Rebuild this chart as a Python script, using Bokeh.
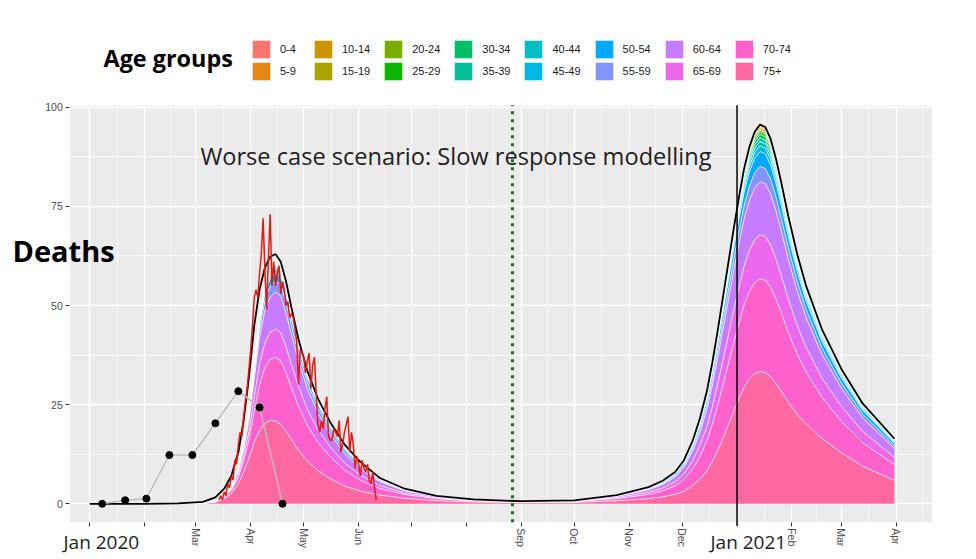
import pandas as pd
from bokeh.plotting import figure
from bokeh.models import (ColumnDataSource, Range1d, FixedTicker, Label, Legend,
                          LegendItem, BoxAnnotation)
from bokeh.embed import file_html
from bokeh.resources import INLINE

# ---------------- data ----------------
age_groups = ["0-4", "5-9", "10-14", "15-19", "20-24", "25-29", "30-34", "35-39",
              "40-44", "45-49", "50-54", "55-59", "60-64", "65-69", "70-74", "75+"]
age_colors = ["#F8766D", "#E68613", "#CD9600", "#ABA300", "#7CAE00", "#0CB702",
              "#00BE67", "#00C19A", "#00BFC4", "#00B8E7", "#00A9FF", "#8494FF",
              "#C77CFF", "#ED68ED", "#FF61CC", "#FF68A1"]

stack_dates = ["2020-03-05", "2020-03-12", "2020-03-17", "2020-03-21", "2020-03-25",
               "2020-03-28", "2020-03-31", "2020-04-03", "2020-04-06", "2020-04-09",
               "2020-04-12", "2020-04-15", "2020-04-18", "2020-04-21", "2020-04-24",
               "2020-04-28", "2020-05-03", "2020-05-09", "2020-05-16", "2020-05-24",
               "2020-06-02", "2020-06-13", "2020-06-27", "2020-07-15", "2020-08-05",
               "2020-09-01",
               "2020-10-01", "2020-10-25", "2020-11-12", "2020-11-20", "2020-11-27",
               "2020-12-02", "2020-12-07", "2020-12-11", "2020-12-15", "2020-12-18",
               "2020-12-21", "2020-12-24", "2020-12-27", "2020-12-30", "2021-01-02",
               "2021-01-05", "2021-01-08", "2021-01-11", "2021-01-14", "2021-01-17",
               "2021-01-20", "2021-01-23", "2021-01-26", "2021-01-30", "2021-02-04",
               "2021-02-09", "2021-02-18", "2021-03-01", "2021-03-13", "2021-03-31"]

# first 26 values: spring 2020 wave; last 30 values: winter 2020/21 wave
deaths_0_4 = [0.0, 0.0, 0.0, 0.0, 0.0, 0.0, 0.01, 0.01, 0.02, 0.03, 0.03, 0.03, 0.03, 0.03, 0.03, 0.02, 0.02, 0.01, 0.01, 0.01, 0.0, 0.0, 0.0, 0.0, 0.0, 0.0,
              0.0, 0.01, 0.01, 0.02, 0.02, 0.03, 0.05, 0.06, 0.08, 0.1, 0.12, 0.14, 0.16, 0.18, 0.2, 0.22, 0.23, 0.24, 0.25, 0.25, 0.24, 0.23, 0.21, 0.19, 0.16, 0.14, 0.11, 0.08, 0.06, 0.04]
deaths_5_9 = [0.0, 0.0, 0.0, 0.0, 0.0, 0.0, 0.01, 0.02, 0.02, 0.03, 0.03, 0.04, 0.04, 0.03, 0.03, 0.02, 0.02, 0.01, 0.01, 0.01, 0.0, 0.0, 0.0, 0.0, 0.0, 0.0,
              0.0, 0.01, 0.01, 0.02, 0.03, 0.04, 0.06, 0.08, 0.1, 0.12, 0.15, 0.17, 0.2, 0.23, 0.25, 0.27, 0.29, 0.3, 0.31, 0.31, 0.3, 0.28, 0.26, 0.23, 0.2, 0.17, 0.14, 0.1, 0.08, 0.05]
deaths_10_14 = [0.0, 0.0, 0.0, 0.0, 0.0, 0.01, 0.01, 0.02, 0.03, 0.03, 0.04, 0.04, 0.04, 0.04, 0.03, 0.03, 0.02, 0.02, 0.01, 0.01, 0.0, 0.0, 0.0, 0.0, 0.0, 0.0,
                0.0, 0.01, 0.01, 0.02, 0.03, 0.04, 0.06, 0.08, 0.1, 0.12, 0.15, 0.18, 0.2, 0.23, 0.25, 0.28, 0.29, 0.31, 0.31, 0.31, 0.3, 0.28, 0.26, 0.23, 0.2, 0.17, 0.14, 0.11, 0.08, 0.05]
deaths_15_19 = [0.0, 0.0, 0.0, 0.0, 0.01, 0.01, 0.02, 0.04, 0.06, 0.07, 0.08, 0.08, 0.08, 0.07, 0.06, 0.06, 0.04, 0.04, 0.03, 0.02, 0.01, 0.01, 0.0, 0.0, 0.0, 0.0,
                0.0, 0.01, 0.02, 0.03, 0.04, 0.05, 0.08, 0.11, 0.14, 0.17, 0.21, 0.25, 0.28, 0.32, 0.35, 0.39, 0.41, 0.43, 0.44, 0.43, 0.42, 0.4, 0.37, 0.33, 0.28, 0.24, 0.19, 0.15, 0.11, 0.07]
deaths_20_24 = [0.0, 0.0, 0.0, 0.0, 0.01, 0.02, 0.03, 0.06, 0.09, 0.1, 0.11, 0.12, 0.12, 0.11, 0.1, 0.08, 0.07, 0.05, 0.04, 0.03, 0.02, 0.01, 0.01, 0.0, 0.0, 0.0,
                0.0, 0.01, 0.02, 0.03, 0.04, 0.06, 0.09, 0.12, 0.16, 0.2, 0.24, 0.28, 0.33, 0.37, 0.4, 0.44, 0.47, 0.49, 0.5, 0.5, 0.48, 0.45, 0.42, 0.38, 0.32, 0.28, 0.22, 0.17, 0.13, 0.08]
deaths_25_29 = [0.0, 0.0, 0.0, 0.01, 0.02, 0.03, 0.05, 0.08, 0.11, 0.14, 0.15, 0.16, 0.16, 0.14, 0.13, 0.11, 0.09, 0.07, 0.05, 0.04, 0.03, 0.02, 0.01, 0.0, 0.0, 0.0,
                0.01, 0.01, 0.03, 0.04, 0.06, 0.08, 0.11, 0.15, 0.2, 0.25, 0.3, 0.36, 0.41, 0.46, 0.51, 0.55, 0.59, 0.61, 0.62, 0.62, 0.6, 0.57, 0.53, 0.47, 0.4, 0.35, 0.28, 0.21, 0.16, 0.11]
deaths_30_34 = [0.0, 0.0, 0.01, 0.01, 0.03, 0.05, 0.08, 0.14, 0.2, 0.24, 0.27, 0.28, 0.28, 0.25, 0.23, 0.19, 0.16, 0.12, 0.1, 0.07, 0.05, 0.03, 0.02, 0.01, 0.0, 0.0,
                0.01, 0.02, 0.04, 0.06, 0.08, 0.11, 0.16, 0.21, 0.28, 0.35, 0.42, 0.5, 0.57, 0.64, 0.71, 0.77, 0.82, 0.85, 0.87, 0.87, 0.84, 0.79, 0.74, 0.66, 0.57, 0.49, 0.39, 0.3, 0.22, 0.15]
deaths_35_39 = [0.0, 0.0, 0.01, 0.01, 0.04, 0.06, 0.1, 0.18, 0.26, 0.31, 0.34, 0.36, 0.36, 0.32, 0.29, 0.25, 0.2, 0.16, 0.12, 0.09, 0.06, 0.04, 0.02, 0.01, 0.01, 0.0,
                0.01, 0.02, 0.04, 0.06, 0.08, 0.12, 0.17, 0.23, 0.3, 0.37, 0.45, 0.53, 0.61, 0.69, 0.76, 0.83, 0.88, 0.92, 0.93, 0.93, 0.9, 0.85, 0.79, 0.7, 0.61, 0.52, 0.41, 0.32, 0.24, 0.16]
deaths_40_44 = [0.0, 0.0, 0.01, 0.02, 0.05, 0.08, 0.14, 0.23, 0.34, 0.42, 0.46, 0.48, 0.47, 0.43, 0.39, 0.33, 0.27, 0.21, 0.16, 0.12, 0.08, 0.05, 0.03, 0.01, 0.01, 0.0,
                0.01, 0.03, 0.05, 0.07, 0.1, 0.14, 0.21, 0.28, 0.36, 0.45, 0.54, 0.64, 0.73, 0.82, 0.91, 0.99, 1.05, 1.1, 1.12, 1.11, 1.08, 1.02, 0.95, 0.84, 0.73, 0.63, 0.5, 0.38, 0.28, 0.19]
deaths_45_49 = [0.0, 0.01, 0.01, 0.03, 0.07, 0.12, 0.2, 0.33, 0.48, 0.59, 0.65, 0.67, 0.67, 0.61, 0.55, 0.47, 0.38, 0.3, 0.23, 0.17, 0.12, 0.07, 0.04, 0.02, 0.01, 0.01,
                0.01, 0.03, 0.07, 0.09, 0.13, 0.18, 0.26, 0.35, 0.46, 0.57, 0.69, 0.82, 0.94, 1.05, 1.16, 1.27, 1.35, 1.4, 1.43, 1.42, 1.38, 1.3, 1.21, 1.08, 0.93, 0.8, 0.63, 0.49, 0.36, 0.24]
deaths_50_54 = [0.0, 0.02, 0.04, 0.08, 0.2, 0.35, 0.58, 0.98, 1.43, 1.74, 1.9, 1.98, 1.98, 1.81, 1.62, 1.38, 1.11, 0.88, 0.69, 0.5, 0.34, 0.21, 0.12, 0.06, 0.03, 0.02,
                0.03, 0.09, 0.17, 0.24, 0.34, 0.47, 0.68, 0.92, 1.21, 1.49, 1.81, 2.13, 2.44, 2.75, 3.03, 3.31, 3.51, 3.66, 3.74, 3.71, 3.6, 3.4, 3.16, 2.81, 2.42, 2.09, 1.65, 1.27, 0.95, 0.63]
deaths_55_59 = [0.01, 0.02, 0.06, 0.12, 0.29, 0.51, 0.84, 1.42, 2.08, 2.53, 2.77, 2.89, 2.88, 2.64, 2.36, 2.01, 1.62, 1.28, 1.0, 0.73, 0.5, 0.3, 0.17, 0.09, 0.05, 0.03,
                0.03, 0.09, 0.18, 0.25, 0.35, 0.48, 0.71, 0.95, 1.25, 1.54, 1.87, 2.2, 2.52, 2.84, 3.13, 3.42, 3.63, 3.78, 3.86, 3.84, 3.72, 3.52, 3.26, 2.91, 2.5, 2.16, 1.71, 1.31, 0.98, 0.65]
deaths_60_64 = [0.02, 0.07, 0.19, 0.38, 0.94, 1.65, 2.7, 4.58, 6.7, 8.15, 8.93, 9.31, 9.28, 8.48, 7.59, 6.46, 5.22, 4.14, 3.22, 2.35, 1.6, 0.96, 0.54, 0.28, 0.15, 0.08,
                0.11, 0.31, 0.62, 0.87, 1.2, 1.68, 2.45, 3.29, 4.34, 5.35, 6.49, 7.63, 8.75, 9.85, 10.86, 11.85, 12.58, 13.12, 13.39, 13.31, 12.9, 12.19, 11.31, 10.08, 8.69, 7.48, 5.91, 4.54, 3.4, 2.26]
deaths_65_69 = [0.01, 0.05, 0.14, 0.29, 0.72, 1.26, 2.07, 3.51, 5.13, 6.25, 6.84, 7.13, 7.11, 6.5, 5.81, 4.95, 4.0, 3.17, 2.47, 1.8, 1.22, 0.74, 0.41, 0.22, 0.12, 0.06,
                0.09, 0.26, 0.52, 0.72, 1.0, 1.39, 2.03, 2.72, 3.6, 4.43, 5.38, 6.32, 7.24, 8.15, 8.99, 9.81, 10.41, 10.86, 11.09, 11.02, 10.68, 10.09, 9.36, 8.35, 7.19, 6.19, 4.9, 3.76, 2.81, 1.87]
deaths_70_74 = [0.03, 0.12, 0.32, 0.65, 1.62, 2.84, 4.66, 7.9, 11.54, 14.05, 15.39, 16.04, 16.0, 14.62, 13.08, 11.14, 8.99, 7.13, 5.55, 4.05, 2.75, 1.66, 0.93, 0.49, 0.26, 0.14,
                0.19, 0.55, 1.09, 1.52, 2.11, 2.93, 4.29, 5.75, 7.6, 9.36, 11.36, 13.35, 15.3, 17.22, 18.99, 20.72, 22.0, 22.94, 23.42, 23.27, 22.56, 21.32, 19.78, 17.63, 15.19, 13.08, 10.34, 7.93, 5.94, 3.95]
deaths_75_plus = [0.08, 0.4, 1.2, 2.6, 5.0, 8.0, 11.5, 15.5, 18.5, 20.3, 21.0, 20.9, 20.0, 18.4, 16.2, 13.5, 10.8, 8.4, 6.3, 4.5, 3.2, 2.2, 1.4, 0.8, 0.45, 0.3,
                  0.35, 0.75, 1.3, 1.75, 2.4, 3.2, 4.6, 6.2, 8.3, 10.6, 13.3, 16.5, 19.8, 23.2, 26.5, 29.4, 31.5, 32.8, 33.3, 33.1, 32.0, 30.3, 28.4, 25.6, 22.6, 20.2, 16.5, 12.9, 9.5, 5.9]

# black model curve (total deaths)
model_dates = ["2020-01-01", "2020-02-01", "2020-02-20"] + stack_dates
model_total = [0.0, 0.0, 0.1,
               0.5, 1.6, 3.8, 7.0, 13.0, 21.0, 32.0, 45.0, 54.0, 59.5, 62.3, 63.0, 61.0, 56.0,
               49.5, 41.5, 33.5, 26.5, 20.5, 15.0, 10.5, 6.5, 3.8, 2.0, 1.1, 0.65,
               0.85, 2.2, 4.2, 5.8, 8.0, 11.0, 16.0, 21.5, 28.5, 35.5, 43.5, 52.0, 60.5, 69.0,
               77.0, 84.5, 90.0, 93.8, 95.6, 95.0, 92.0, 87.0, 81.0, 72.5, 63.0, 55.0, 44.0,
               34.0, 25.3, 16.4]

# red observed daily deaths, starting 14 March 2020
observed_start = "2020-03-14"
observed_daily = [1, 2, 1, 3, 2, 5, 4, 7, 6, 11,
                  10, 15, 18, 17, 22, 26, 29, 34, 39, 45,
                  52, 54, 52, 58, 63, 72, 59, 49, 62, 73,
                  55, 61, 55, 58, 60, 53, 56, 54, 50, 51,
                  47, 48, 47, 44, 41, 30, 39, 38, 37, 33,
                  36, 38, 29, 35, 37, 28, 20, 18, 21, 19,
                  24, 27, 17, 16, 16, 19, 18, 17, 21, 13,
                  15, 18, 20, 22, 13, 18, 15, 9, 12, 10,
                  7, 11, 9, 8, 10, 6, 5, 8, 4, 1]

# black dots joined by a grey line
report_dates = ["2020-01-08", "2020-01-21", "2020-02-02", "2020-02-15", "2020-02-28",
                "2020-03-12", "2020-03-25", "2020-04-06", "2020-04-19"]
report_values = [0.0, 0.9, 1.3, 12.3, 12.3, 20.3, 28.4, 24.3, 0.0]

dotted_line_date = "2020-08-27"
year_line_date = "2021-01-01"

month_ticks = ["2020-01-01", "2020-02-01", "2020-03-01", "2020-04-01", "2020-05-01",
               "2020-06-01", "2020-07-01", "2020-08-01", "2020-09-01", "2020-10-01",
               "2020-11-01", "2020-12-01", "2021-01-01", "2021-02-01", "2021-03-01",
               "2021-04-01"]
month_labels = ["", "", "Mar", "Apr", "May", "Jun", "", "", "Sep", "Oct", "Nov", "Dec",
                "", "Feb", "Mar", "Apr"]
y_ticks = [0, 25, 50, 75, 100]
y_minor = [12.5, 37.5, 62.5, 87.5]
chart_title = "Worse case scenario: Slow response modelling"
legend_title = "Age groups"
y_title = "Deaths"
year_labels = ["Jan 2020", "Jan 2021"]

# ---------------- layout geometry (pixels) ----------------
W, H = 975, 558
PX_PER_DAY = 1.7684        # horizontal scale of the panel
JAN1_X = 89.3              # x pixel of 1 Jan 2020
PX_PER_UNIT = 3.966        # vertical scale of the panel
ZERO_Y = 503.3             # y pixel (from top) of 0 deaths
PANEL_LEFT_PX, PANEL_RIGHT_PX = 69.3, 931.7
PANEL_BOTTOM, PANEL_TOP = -4.64, 100.5

def ms(d):
    return pd.Timestamp(d).value // 10**6

DAY_MS = 86400000
jan1 = ms("2020-01-01")
def px_to_ms(px):
    return jan1 + (px - JAN1_X) / PX_PER_DAY * DAY_MS

panel_left = px_to_ms(PANEL_LEFT_PX)
panel_right = px_to_ms(PANEL_RIGHT_PX)

group_values = [deaths_0_4, deaths_5_9, deaths_10_14, deaths_15_19, deaths_20_24,
                deaths_25_29, deaths_30_34, deaths_35_39, deaths_40_44, deaths_45_49,
                deaths_50_54, deaths_55_59, deaths_60_64, deaths_65_69, deaths_70_74,
                deaths_75_plus]
data = {"date": pd.to_datetime(stack_dates)}
for g, v in zip(age_groups, group_values):
    assert len(v) == len(stack_dates), g
    data[g] = v
assert len(model_dates) == len(model_total)
src = ColumnDataSource(data)

p = figure(width=W, height=H, x_axis_type="datetime",
           output_backend="svg", toolbar_location=None, title_location=None,
           min_border=0,
           x_range=Range1d(px_to_ms(0), px_to_ms(W)),
           y_range=Range1d((ZERO_Y - H) / PX_PER_UNIT, ZERO_Y / PX_PER_UNIT))
p.background_fill_color = "white"
p.border_fill_color = "white"
p.outline_line_color = None

# grey panel (drawn beneath the grid) and white masks outside it (over the grid)
p.add_layout(BoxAnnotation(left=panel_left, right=panel_right, bottom=PANEL_BOTTOM,
                           top=PANEL_TOP, fill_color="#EBEBEB", fill_alpha=1,
                           line_color=None, level="image"))
for kw in (dict(right=panel_left), dict(left=panel_right),
           dict(top=PANEL_BOTTOM), dict(bottom=PANEL_TOP)):
    p.add_layout(BoxAnnotation(fill_color="white", fill_alpha=1, line_color=None,
                               level="underlay", **kw))

stack_order = age_groups[::-1]          # 75+ at the bottom
stack_cols = age_colors[::-1]
areas = p.varea_stack(stackers=stack_order, x="date", color=stack_cols, source=src)
area_by_group = dict(zip(stack_order, areas))
p.vline_stack(stackers=stack_order, x="date", source=src, line_color="white",
              line_width=1, line_alpha=0.75)

p.line(pd.to_datetime(model_dates), model_total, line_color="black", line_width=1.8)

obs_dates = pd.date_range(observed_start, periods=len(observed_daily), freq="D")
p.line(obs_dates, observed_daily, line_color="#E8170F", line_width=1.5)

p.line(pd.to_datetime(report_dates), report_values, line_color="#BDBDBD", line_width=1.5)
p.scatter(pd.to_datetime(report_dates), report_values, size=7, color="black")

p.segment(x0=[pd.Timestamp(dotted_line_date)], y0=[PANEL_BOTTOM],
          x1=[pd.Timestamp(dotted_line_date)], y1=[PANEL_TOP],
          line_color="#1E6B1E", line_width=3, line_dash="3 5")
p.segment(x0=[pd.Timestamp(year_line_date)], y0=[PANEL_BOTTOM - 0.9],
          x1=[pd.Timestamp(year_line_date)], y1=[PANEL_TOP],
          line_color="black", line_width=1.5)

# axes drawn along the panel edges
tick_ms = [ms(d) for d in month_ticks]
mid_ms = [(a + b) / 2 for a, b in zip(tick_ms[:-1], tick_ms[1:])] + [tick_ms[-1] + 15 * DAY_MS]
p.xaxis.fixed_location = PANEL_BOTTOM
p.yaxis.fixed_location = panel_left
p.xaxis.ticker = FixedTicker(ticks=tick_ms)
p.xaxis.major_label_overrides = {t: lab for t, lab in zip(tick_ms, month_labels)}
p.xaxis.major_label_orientation = "vertical"
p.xgrid.ticker = FixedTicker(ticks=tick_ms, minor_ticks=mid_ms)
p.yaxis.ticker = FixedTicker(ticks=y_ticks)
p.ygrid.ticker = FixedTicker(ticks=y_ticks, minor_ticks=y_minor)
for grid in (p.xgrid, p.ygrid):
    grid.grid_line_color = "white"
    grid.grid_line_width = 1.3
    grid.minor_grid_line_color = "white"
    grid.minor_grid_line_width = 0.7
for ax in (p.xaxis, p.yaxis):
    ax.axis_line_color = None
    ax.major_tick_line_color = "#333333"
    ax.major_tick_in = 0
    ax.major_tick_out = 4
    ax.minor_tick_line_color = None
    ax.major_label_text_color = "#4D4D4D"
    ax.major_label_text_font = "Liberation Sans"
    ax.major_label_text_font_size = "10.5px"
p.xaxis.major_label_standoff = 2
p.yaxis.major_label_standoff = 3

# legend: two rows of eight keys above the panel
def make_row(groups, top_px):
    return Legend(items=[LegendItem(label=g, renderers=[area_by_group[g]]) for g in groups],
                  orientation="horizontal", location=(250, H - top_px - 22),
                  glyph_width=22, glyph_height=22, label_height=22, label_standoff=8,
                  spacing=12, padding=0, margin=0, border_line_color=None,
                  background_fill_alpha=0, label_text_font="Liberation Sans",
                  label_text_font_size="11px", label_text_color="#1A1A1A")
p.add_layout(make_row(age_groups[0::2], 37.5))
p.add_layout(make_row(age_groups[1::2], 60))

def screen_label(text, x_px, y_px_from_top, size, bold=False, color="black"):
    p.add_layout(Label(text=text, x=x_px, y=H - y_px_from_top, x_units="screen",
                       y_units="screen", text_font="Open Sans", text_font_size=size,
                       text_font_style="bold" if bold else "normal", text_color=color,
                       text_baseline="middle", text_align="left"))

screen_label(legend_title, 103, 57, "23.4px", bold=True)
screen_label(y_title, 12, 250, "29px", bold=True)
screen_label(chart_title, 200, 155, "23.6px", color="#222222")
screen_label(year_labels[0], 63, 541, "19px", color="#222222")
screen_label(year_labels[1], 710, 541, "19px", color="#222222")

open("out.html", "w").write(file_html(p, INLINE))
